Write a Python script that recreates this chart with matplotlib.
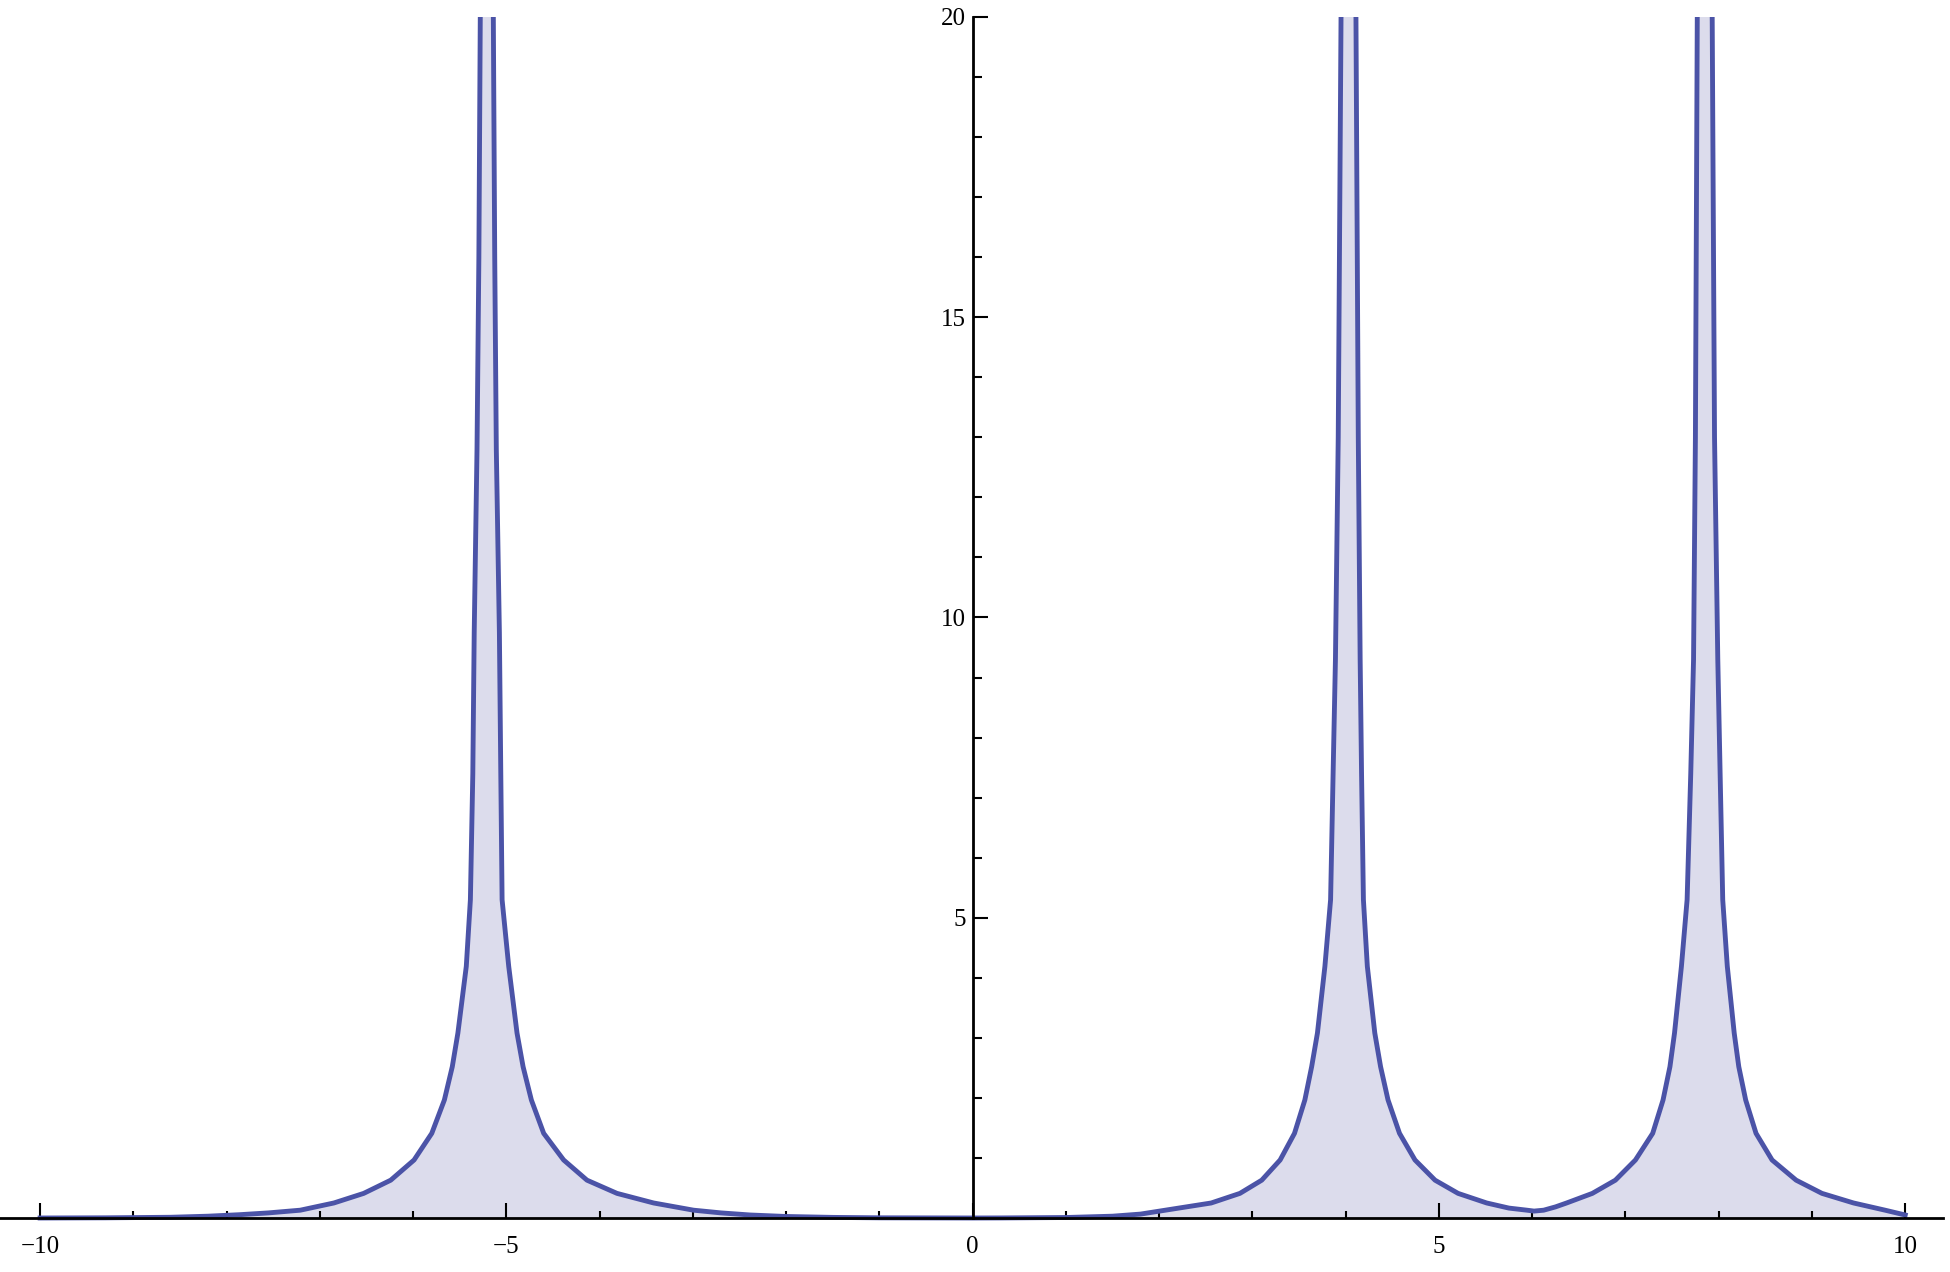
import numpy as np
import matplotlib.pyplot as plt
from matplotlib.ticker import FixedLocator

#################################################################
### DATA
# curve points, left to right; values above 20 are off the top of the plot
x_vals = [-10.0, -9.3, -8.6, -8.2, -7.86, -7.55, -7.21, -6.85, -6.53, -6.24, -5.99, -5.80,
          -5.665, -5.58, -5.52, -5.43, -5.386, -5.36, -5.345, -5.315, -5.295, -5.28,
          -5.21,
          -5.14, -5.125, -5.108, -5.075, -5.06, -5.046, -4.975, -4.886, -4.821, -4.732,
          -4.60, -4.386, -4.136, -3.814, -3.421, -2.993, -2.70, -2.386, -2.0, -1.5, -1.0, 0.0,
          0.3, 1.0, 1.5, 1.8, 2.066, 2.558, 2.866, 3.10, 3.297, 3.451, 3.562,
          3.635, 3.697, 3.777, 3.838, 3.865, 3.89, 3.92, 3.95,
          4.03,
          4.11, 4.135, 4.155, 4.17, 4.19, 4.232, 4.312, 4.374, 4.454, 4.577,
          4.743, 4.958, 5.205, 5.512, 5.75, 5.943, 6.02,
          6.123, 6.25, 6.369, 6.645, 6.892, 7.107, 7.292, 7.403, 7.477, 7.526, 7.60,
          7.661, 7.70, 7.73, 7.75, 7.77,
          7.855,
          7.93, 7.955, 7.99, 8.015, 8.043, 8.092, 8.166, 8.215, 8.289, 8.40,
          8.572, 8.83, 9.107, 9.446, 9.784, 10.0]
y_vals = [0.0, 0.003, 0.012, 0.03, 0.055, 0.085, 0.13, 0.25, 0.41, 0.63, 0.966, 1.41,
          1.965, 2.52, 3.08, 4.19, 5.30, 7.4, 9.75, 12.8, 16.0, 20.0,
          30.0,
          20.0, 16.0, 12.8, 9.75, 7.4, 5.30, 4.19, 3.08, 2.52, 1.965,
          1.41, 0.966, 0.63, 0.41, 0.25, 0.13, 0.085, 0.05, 0.025, 0.01, 0.003, 0.0,
          0.001, 0.008, 0.03, 0.065, 0.13, 0.25, 0.41, 0.63, 0.966, 1.41, 1.965,
          2.52, 3.08, 4.19, 5.30, 7.4, 9.3, 13.0, 20.0,
          30.0,
          20.0, 13.0, 9.3, 7.4, 5.30, 4.19, 3.08, 2.52, 1.965, 1.41,
          0.966, 0.63, 0.41, 0.25, 0.165, 0.13, 0.115,
          0.13, 0.185, 0.25, 0.41, 0.63, 0.966, 1.41, 1.965, 2.52, 3.08, 4.19,
          5.30, 7.4, 9.3, 13.0, 20.0,
          30.0,
          20.0, 13.0, 9.3, 7.4, 5.30, 4.19, 3.08, 2.52, 1.965, 1.41,
          0.966, 0.63, 0.41, 0.25, 0.13, 0.05]

x_major = [-10, -5, 0, 5, 10]
x_labels = ['\u221210', '\u22125', '0', '5', '10']
y_major = [5, 10, 15, 20]
y_labels = ['5', '10', '15', '20']

line_col = '#4b53a7'
fill_col = '#dcdcec'

#################################################################
### FIGURE
fig = plt.figure(figsize=(19.5, 12.72), dpi=100)
ax = fig.add_axes([0.0, 0.02516, 1.0, 0.96148])
ax.set_xlim(-10.43, 10.48)
ax.set_ylim(-0.3664, 20)

ax.fill_between(x_vals, y_vals, 0, color=fill_col, lw=0, zorder=1)
ax.plot(x_vals, y_vals, color=line_col, lw=3.5, solid_joinstyle='round', zorder=2)

# Mathematica style axes through the origin
for s in ['top', 'right']:
    ax.spines[s].set_visible(False)
ax.spines['left'].set_position(('data', 0))
ax.spines['bottom'].set_position(('data', 0))
ax.spines['left'].set_bounds(0, 20)
ax.spines['bottom'].set_bounds(-10.43, 10.40)
for s in ['left', 'bottom']:
    ax.spines[s].set_linewidth(2.0)
    ax.spines[s].set_zorder(3)

ax.xaxis.set_major_locator(FixedLocator(x_major))
ax.xaxis.set_minor_locator(FixedLocator([v for v in range(-10, 11) if v % 5 != 0]))
ax.yaxis.set_major_locator(FixedLocator(y_major))
ax.yaxis.set_minor_locator(FixedLocator([v for v in range(1, 20) if v % 5 != 0]))
ax.set_xticklabels(x_labels)
ax.set_yticklabels(y_labels)

ax.xaxis.set_tick_params(which='major', direction='in', length=10.5, width=1.5, pad=13)
ax.xaxis.set_tick_params(which='minor', direction='in', length=5.2, width=1.5)
ax.yaxis.set_tick_params(which='major', direction='in', length=11, width=1.5, pad=5)
ax.yaxis.set_tick_params(which='minor', direction='in', length=6.5, width=1.5)

for lab in ax.get_xticklabels() + ax.get_yticklabels():
    lab.set_fontfamily('Liberation Serif')
    lab.set_fontsize(18)

fig.savefig('out.png', dpi=100)
